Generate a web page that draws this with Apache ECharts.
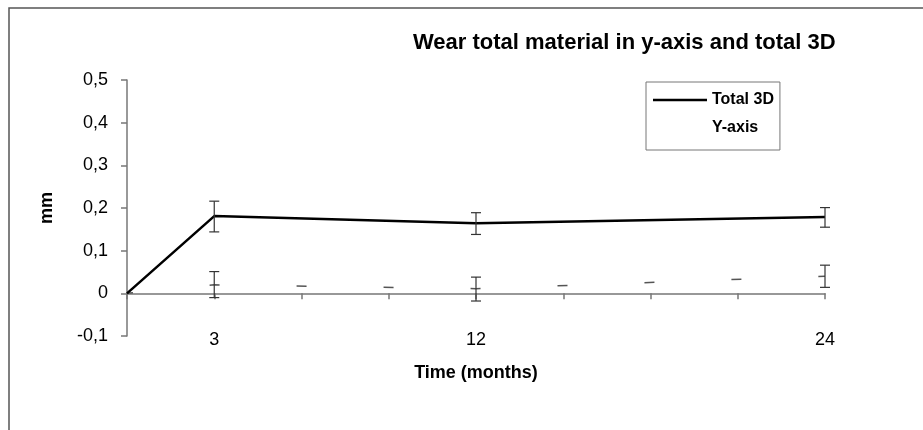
<!DOCTYPE html>
<html>
<head>
<meta charset="utf-8">
<script src="https://cdn.jsdelivr.net/npm/echarts@6/dist/echarts.min.js"></script>
<style>
  html, body { margin: 0; padding: 0; background: #fff; }
  #chart { width: 923px; height: 430px; }
</style>
</head>
<body>
<div id="chart"></div>
<script>
// time points (months)
var months = [0, 3, 12, 24];
var shownMonths = [3, 12, 24];
var yTicks = [-0.1, 0, 0.1, 0.2, 0.3, 0.4, 0.5];

// Total 3D wear (mm) with error range
var total3D = [0, 0.181, 0.164, 0.179];
var total3DLow = [null, 0.144, 0.138, 0.155];
var total3DHigh = [null, 0.216, 0.189, 0.201];

// Y-axis wear (mm) with error range
var yAxisWear = [0, 0.02, 0.011, 0.04];
var yAxisLow = [null, -0.010, -0.018, 0.014];
var yAxisHigh = [null, 0.051, 0.038, 0.066];

var font = 'Liberation Sans, Arial, sans-serif';

function pairs(xs, ys) {
    return xs.map(function (x, i) { return [x, ys[i]]; });
}

function errData(lo, hi) {
    var out = [];
    for (var i = 0; i < months.length; i++) {
        if (lo[i] != null) out.push([months[i], lo[i], hi[i]]);
    }
    return out;
}

function errBar(params, api) {
    var top = api.coord([api.value(0), api.value(2)]);
    var bot = api.coord([api.value(0), api.value(1)]);
    var w = 5;
    var style = { stroke: '#333', lineWidth: 1.2 };
    return {
        type: 'group',
        children: [
            { type: 'line', shape: { x1: top[0], y1: top[1], x2: bot[0], y2: bot[1] }, style: style },
            { type: 'line', shape: { x1: top[0] - w, y1: top[1], x2: top[0] + w, y2: top[1] }, style: style },
            { type: 'line', shape: { x1: bot[0] - w, y1: bot[1], x2: bot[0] + w, y2: bot[1] }, style: style }
        ]
    };
}

var chart = echarts.init(document.getElementById('chart'));

chart.setOption({
    backgroundColor: '#fff',
    animation: false,
    title: {
        text: 'Wear total material in y-axis and total 3D',
        left: 413,
        top: 32,
        padding: 0,
        textStyle: { fontFamily: font, fontSize: 22, fontWeight: 'bold', color: '#000' }
    },
    graphic: [{
        type: 'rect',
        shape: { x: 9, y: 8, width: 1000, height: 1000 },
        style: { fill: null, stroke: '#555', lineWidth: 1.5 },
        z: -1
    }],
    legend: {
        left: 646,
        top: 82,
        orient: 'vertical',
        padding: [9, 6, 13, 7],
        itemGap: 10,
        itemWidth: 54,
        itemHeight: 2.5,
        borderColor: '#777',
        borderWidth: 1,
        textStyle: { fontFamily: font, fontSize: 16, fontWeight: 'bold', color: '#000', lineHeight: 18 },
        data: [
            { name: 'Total 3D', icon: 'rect', itemStyle: { color: '#000' } },
            { name: 'Y-axis', icon: 'rect', itemStyle: { color: '#fff', opacity: 0 } }
        ]
    },
    grid: { left: 127, right: 98, top: 80, bottom: 94 },
    xAxis: {
        type: 'value',
        min: 0,
        max: 24,
        interval: 3,
        name: 'Time (months)',
        nameLocation: 'middle',
        nameGap: 28,
        nameTextStyle: { fontFamily: font, fontSize: 18, fontWeight: 'bold', color: '#000' },
        axisLine: { onZero: true, lineStyle: { color: '#777', width: 1.5 } },
        axisTick: { show: true, inside: false, length: 6, lineStyle: { color: '#777', width: 1.5 } },
        axisLabel: {
            margin: -5,
            fontFamily: font,
            fontSize: 18,
            color: '#000',
            formatter: function (v) { return shownMonths.indexOf(v) >= 0 ? String(v) : ''; }
        },
        splitLine: { show: false }
    },
    yAxis: {
        type: 'value',
        min: yTicks[0],
        max: yTicks[yTicks.length - 1],
        interval: 0.1,
        name: 'mm',
        nameLocation: 'middle',
        nameGap: 71,
        nameTextStyle: { fontFamily: font, fontSize: 18, fontWeight: 'bold', color: '#000' },
        axisLine: { show: true, lineStyle: { color: '#777', width: 1.5 } },
        axisTick: { show: true, length: 6, lineStyle: { color: '#777', width: 1.5 } },
        axisLabel: {
            margin: 19,
            fontFamily: font,
            fontSize: 18,
            color: '#000',
            formatter: function (v) { return (Math.round(v * 10) / 10).toString().replace('.', ','); }
        },
        splitLine: { show: false }
    },
    series: [
        {
            name: 'Total 3D',
            type: 'line',
            data: pairs(months, total3D),
            symbol: 'none',
            lineStyle: { color: '#000', width: 2.5 },
            itemStyle: { color: '#000' },
            z: 3
        },
        {
            name: 'Y-axis',
            type: 'line',
            data: pairs(months, yAxisWear),
            symbol: 'none',
            lineStyle: { color: '#555', width: 1.5, type: [10, 77], dashOffset: 4 },
            itemStyle: { color: '#555' },
            z: 2
        },
        {
            name: 'Total 3D err',
            type: 'custom',
            renderItem: errBar,
            data: errData(total3DLow, total3DHigh),
            z: 4
        },
        {
            name: 'Y-axis err',
            type: 'custom',
            renderItem: errBar,
            data: errData(yAxisLow, yAxisHigh),
            z: 4
        }
    ]
});
</script>
</body>
</html>
